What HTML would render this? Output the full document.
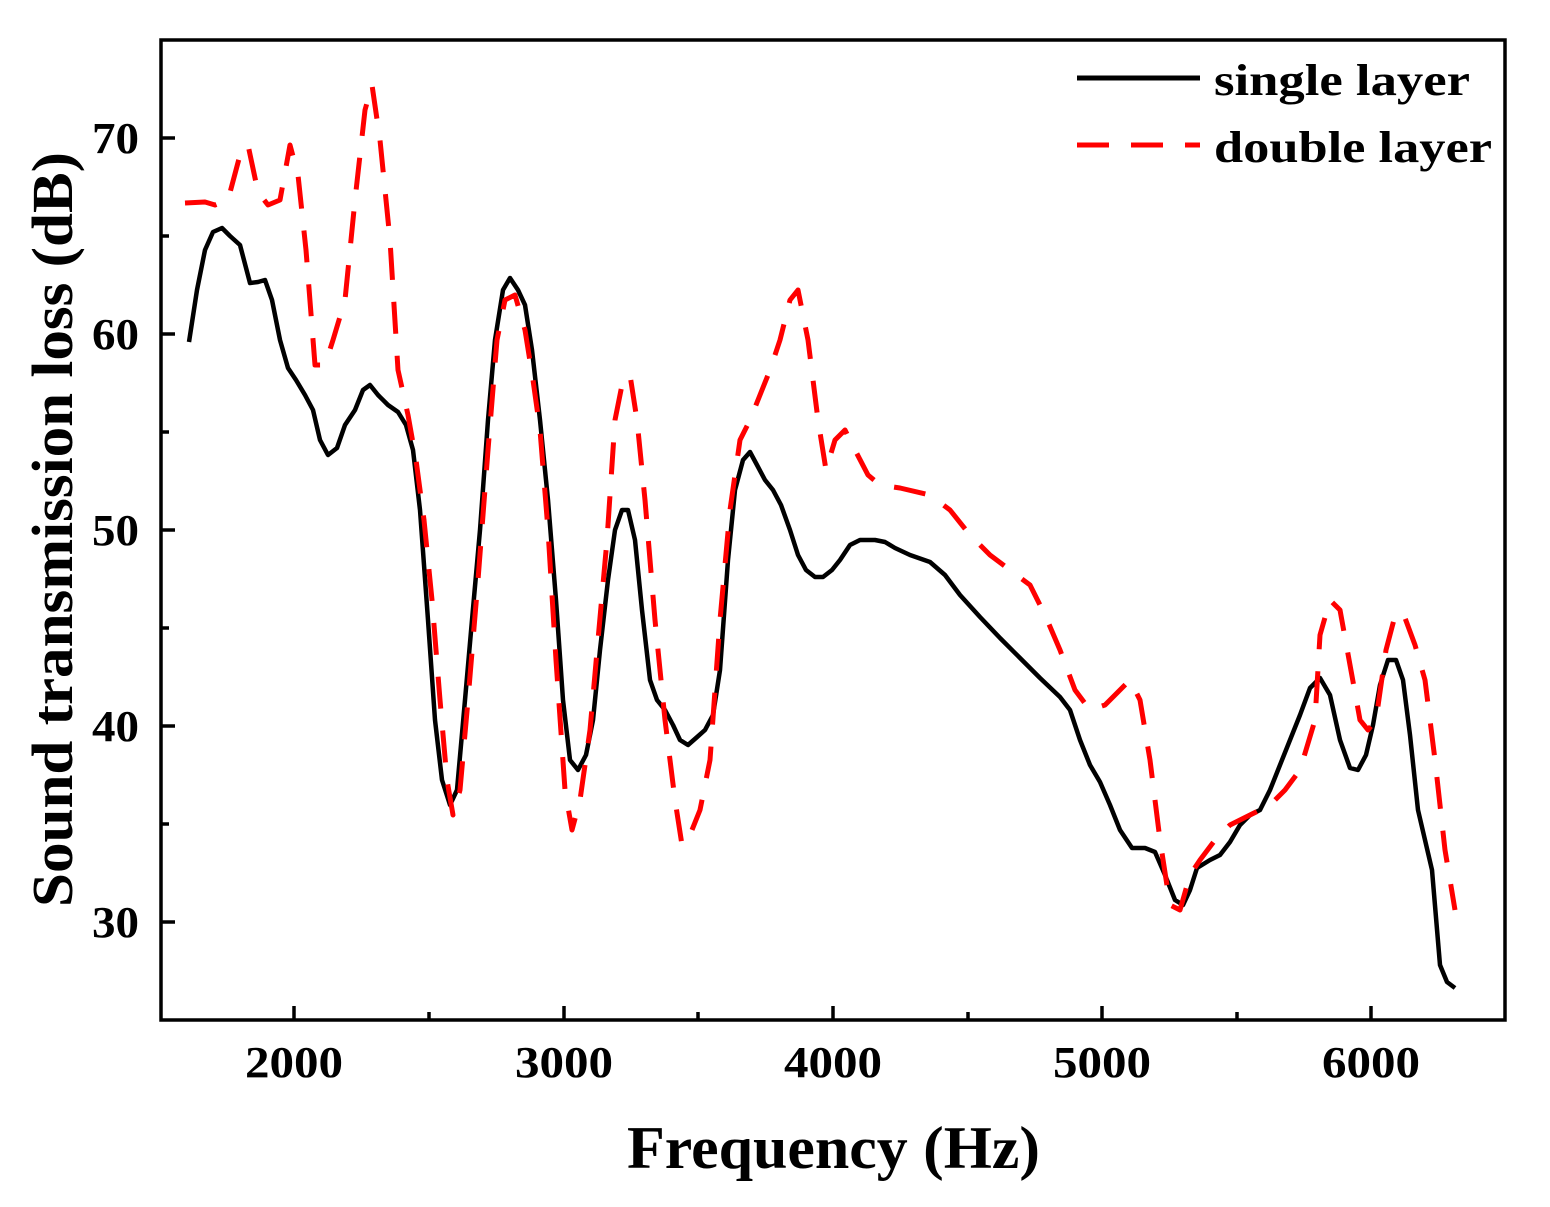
<!DOCTYPE html>
<html><head><meta charset="utf-8"><style>body{margin:0;background:#fff}</style></head><body>
<svg width="1550" height="1202" xmlns="http://www.w3.org/2000/svg" font-family="Liberation Serif, serif" font-weight="bold">
<rect x="161" y="40" width="1344" height="980" fill="none" stroke="#000" stroke-width="3.5"/>
<g stroke="#000" stroke-width="3.5">
<line x1="294" y1="1020" x2="294" y2="1006"/><line x1="564" y1="1020" x2="564" y2="1006"/><line x1="833" y1="1020" x2="833" y2="1006"/><line x1="1102" y1="1020" x2="1102" y2="1006"/><line x1="1371" y1="1020" x2="1371" y2="1006"/>
<line x1="429" y1="1020" x2="429" y2="1012"/><line x1="698" y1="1020" x2="698" y2="1012"/><line x1="968" y1="1020" x2="968" y2="1012"/><line x1="1237" y1="1020" x2="1237" y2="1012"/>
<line x1="161" y1="138" x2="175" y2="138"/><line x1="161" y1="334" x2="175" y2="334"/><line x1="161" y1="530" x2="175" y2="530"/><line x1="161" y1="726" x2="175" y2="726"/><line x1="161" y1="922" x2="175" y2="922"/>
<line x1="161" y1="236" x2="169" y2="236"/><line x1="161" y1="432" x2="169" y2="432"/><line x1="161" y1="628" x2="169" y2="628"/><line x1="161" y1="824" x2="169" y2="824"/>
</g>
<g font-size="44" text-anchor="middle" lengthAdjust="spacingAndGlyphs">
<text x="294" y="1077" textLength="98" lengthAdjust="spacingAndGlyphs">2000</text><text x="564" y="1077" textLength="98" lengthAdjust="spacingAndGlyphs">3000</text><text x="833" y="1077" textLength="98" lengthAdjust="spacingAndGlyphs">4000</text><text x="1102" y="1077" textLength="98" lengthAdjust="spacingAndGlyphs">5000</text><text x="1371" y="1077" textLength="98" lengthAdjust="spacingAndGlyphs">6000</text>
</g>
<g font-size="44">
<text x="92" y="153" textLength="47" lengthAdjust="spacingAndGlyphs">70</text><text x="92" y="349" textLength="47" lengthAdjust="spacingAndGlyphs">60</text><text x="92" y="545" textLength="47" lengthAdjust="spacingAndGlyphs">50</text><text x="92" y="741" textLength="47" lengthAdjust="spacingAndGlyphs">40</text><text x="92" y="937" textLength="47" lengthAdjust="spacingAndGlyphs">30</text>
</g>
<text x="627" y="1168" font-size="60" textLength="413" lengthAdjust="spacingAndGlyphs">Frequency (Hz)</text>
<text transform="translate(72,907) rotate(-90)" font-size="58" textLength="755" lengthAdjust="spacingAndGlyphs">Sound transmission loss (dB)</text>
<line x1="1077" y1="78" x2="1200" y2="78" stroke="#000" stroke-width="5"/>
<line x1="1077" y1="145" x2="1200" y2="145" stroke="#f00" stroke-width="5" stroke-dasharray="32,22"/>
<text x="1214" y="95" font-size="44" textLength="256" lengthAdjust="spacingAndGlyphs">single layer</text>
<text x="1214" y="162" font-size="44" textLength="278" lengthAdjust="spacingAndGlyphs">double layer</text>
<polyline fill="none" stroke="#000" stroke-width="4.5" stroke-linejoin="round" points="189,342 197,290 205,250 213,232 222,228 230,236 240,245 250,283 258,282 265,280 272,300 280,340 288,368 296,380 305,395 313,410 320,440 328,455 337,448 345,425 355,410 363,390 370,385 378,395 388,405 398,412 406,425 413,450 420,510 428,620 435,720 442,780 450,805 457,790 465,700 472,620 480,530 488,420 495,340 503,290 510,278 518,290 525,305 532,350 540,420 548,500 556,600 563,700 570,760 578,770 586,755 593,720 600,650 608,580 615,530 622,510 628,510 635,540 642,610 650,680 657,700 665,710 673,725 680,740 688,745 696,738 705,730 713,715 720,670 728,560 735,490 743,460 750,452 757,465 765,480 773,490 781,505 790,530 798,555 806,570 815,577 823,577 832,570 840,560 850,545 860,540 875,540 885,542 895,548 910,555 930,562 945,575 960,595 980,617 1000,638 1020,658 1040,678 1060,697 1070,710 1080,740 1090,765 1100,782 1110,805 1120,830 1132,848 1145,848 1155,852 1165,875 1175,900 1183,905 1190,890 1197,868 1210,860 1220,855 1230,842 1240,825 1250,815 1260,810 1270,790 1280,765 1290,740 1300,715 1310,688 1320,678 1330,695 1340,740 1350,768 1358,770 1366,755 1373,725 1380,685 1388,660 1396,660 1403,680 1410,735 1418,810 1425,840 1432,870 1440,965 1447,982 1455,988"/>
<polyline fill="none" stroke="#f00" stroke-width="5" stroke-dasharray="32,22" stroke-linejoin="round" points="185,203 205,202 215,205 228,200 240,155 248,145 258,192 268,205 280,200 290,145 298,175 306,250 315,365 325,365 333,340 345,300 355,200 365,110 372,85 380,140 390,240 398,370 408,415 416,460 424,520 432,600 440,700 447,780 453,815 460,790 468,700 478,580 488,450 497,340 505,300 515,295 525,330 533,380 540,430 548,530 556,660 565,790 572,830 580,800 590,730 598,640 607,540 615,420 622,385 630,375 637,420 645,500 655,620 665,720 675,800 682,845 692,830 700,810 710,760 720,620 730,510 740,440 750,420 760,395 770,370 780,340 790,300 798,290 808,340 818,420 826,470 835,440 845,430 855,450 868,475 880,485 900,488 930,495 950,510 970,535 990,555 1010,570 1030,585 1045,615 1060,650 1075,690 1090,710 1105,705 1115,695 1130,680 1140,700 1150,760 1160,840 1170,905 1180,910 1190,875 1200,860 1215,840 1230,825 1250,815 1270,805 1285,790 1300,770 1315,720 1320,635 1330,600 1340,610 1350,665 1360,720 1368,730 1376,720 1386,650 1396,612 1405,618 1415,645 1425,680 1435,760 1445,850 1455,910"/>
</svg>
</body></html>
